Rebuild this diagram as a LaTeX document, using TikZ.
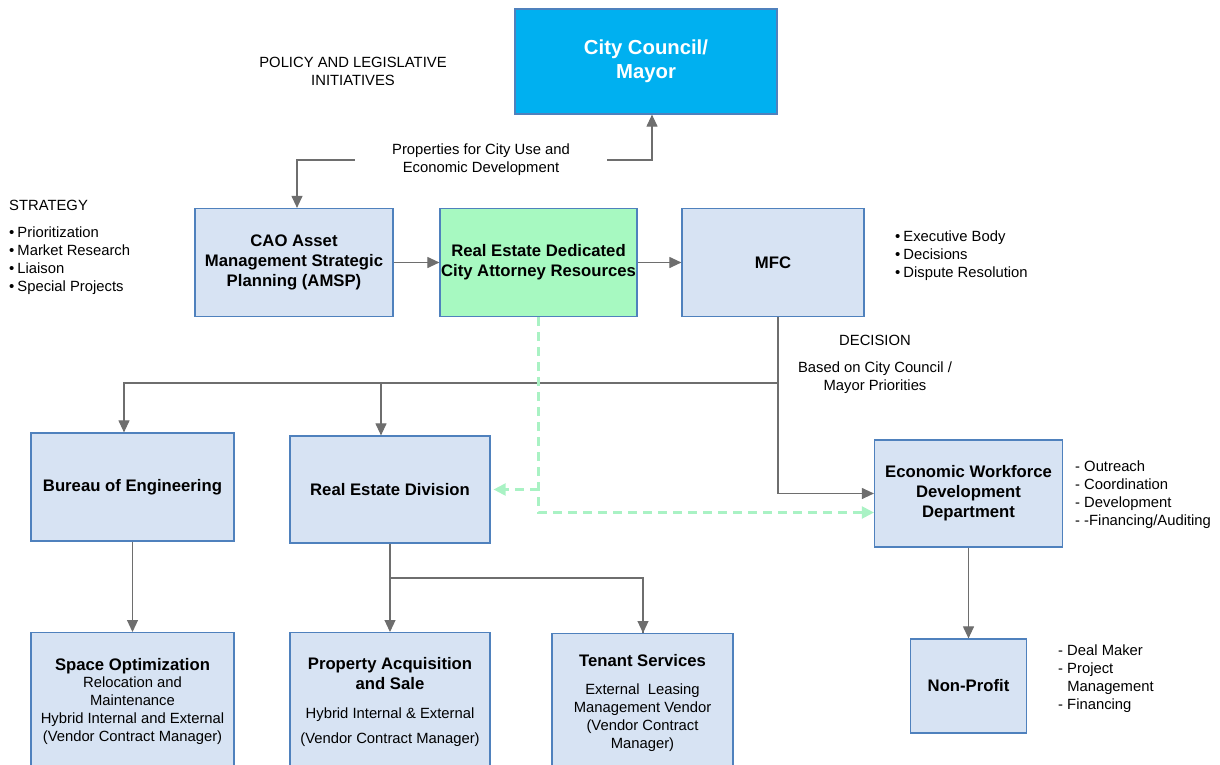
\documentclass[tikz,border=0pt]{standalone}
\usepackage{fontspec}
\setmainfont{Liberation Sans}
\usetikzlibrary{arrows.meta,calc}
\definecolor{boxfill}{HTML}{D7E3F3}
\definecolor{boxline}{HTML}{4F81BD}
\definecolor{councilfill}{HTML}{00B0F0}
\definecolor{greenfill}{HTML}{A7F9C1}
\definecolor{greenline}{HTML}{A9F2C4}
\definecolor{grayline}{HTML}{6E6E6E}
\newcommand{\hd}{\fontsize{16.7}{20}\selectfont\bfseries}
\newcommand{\bul}{{\fontsize{15}{18}\selectfont•}\hspace{3pt}}
\tikzset{
	box/.style={draw=boxline, line width=1.2pt, fill=boxfill, align=center, inner sep=0pt},
	boxtext/.style={font=\fontsize{16.7}{20}\selectfont\bfseries, align=center, inner sep=0pt},
	smalltext/.style={font=\fontsize{14.8}{18}\selectfont, align=center, inner sep=0pt},
	arrowline/.style={draw=grayline, line width=1.1pt, -{Triangle[length=12pt,width=11pt]}},
	plainline/.style={draw=grayline, line width=1.1pt},
	greendash/.style={draw=greenline, line width=2.2pt, dash pattern=on 9pt off 6pt, -{Triangle[length=12pt,width=12pt]}},
}
\begin{document}
\begin{tikzpicture}[x=1pt, y=-1pt]
		%%%%% START %%%%%
		\useasboundingbox (0,0) rectangle (1220,765);
		\clip (0,0) rectangle (1220,765);
		
		% top row
		\node[box, fill=councilfill, minimum width=262, minimum height=105, font=\fontsize{20.3}{24}\selectfont\bfseries, text=white] (council) at (646, 61.5) {City Council/\\Mayor};
		\node[smalltext] (policy) at (353, 71) {POLICY AND LEGISLATIVE\\INITIATIVES};
		\node[smalltext, inner xsep=37pt] (props) at (481, 160) {Properties for City Use and\\Economic Development};
		
		% second row
		\node[box, boxtext, minimum width=198, minimum height=108] (amsp) at (294, 262.5) {CAO Asset\\Management Strategic\\Planning (AMSP)};
		\node[box, boxtext, fill=greenfill, minimum width=197, minimum height=108] (redcar) at (538.5, 262.5) {Real Estate Dedicated\\City Attorney Resources};
		\node[box, boxtext, minimum width=182, minimum height=108] (mfc) at (773, 262.5) {MFC};
		
		\node[smalltext, anchor=west] (strategy) at (9, 205) {STRATEGY};
		\node[smalltext, anchor=north west, align=left] (stratlist) at (9, 227) {\bul Prioritization\\\bul Market Research\\\bul Liaison\\\bul Special Projects};
		\node[smalltext, anchor=north west, align=left] (mfclist) at (895, 231) {\bul Executive Body\\\bul Decisions\\\bul Dispute Resolution};
		\node[smalltext] (decision) at (875, 340) {DECISION};
		\node[smalltext] (based) at (875, 377.5) {Based on City Council /\\Mayor Priorities};
		
		% third row
		\node[box, boxtext, minimum width=203, minimum height=108] (boe) at (132.5, 487) {Bureau of Engineering};
		\node[box, boxtext, minimum width=200, minimum height=107] (red) at (390, 489.5) {Real Estate Division};
		\node[box, boxtext, minimum width=188, minimum height=107] (ewdd) at (968.5, 493.5) {Economic Workforce\\Development\\Department};
		\node[smalltext, anchor=north west, align=left] (ewddlist) at (1075, 461) {- Outreach\\- Coordination\\- Development\\- -Financing/Auditing};
		
		% bottom row
		\node[box, minimum width=203, minimum height=150, anchor=north] (spaceopt) at (132.5, 632) {};
		\node[smalltext, anchor=north] (spaceopttxt) at (132.5, 658) {{\hd Space Optimization}\\[-1pt]Relocation and\\Maintenance\\Hybrid Internal and External\\(Vendor Contract Manager)};
		\node[box, minimum width=200, minimum height=150, anchor=north] (propacq) at (390, 632) {};
		\node[smalltext, anchor=north] (propacqtxt) at (390, 657) {{\hd Property Acquisition}\\[2pt]{\hd and Sale}\\[11pt]Hybrid Internal \& External\\[7pt](Vendor Contract Manager)};
		\node[box, minimum width=181, minimum height=150, anchor=north] (tenant) at (642.5, 633) {};
		\node[smalltext, anchor=north] (tenanttxt) at (642.5, 654) {{\hd Tenant Services}\\[10pt]External~~Leasing\\Management Vendor\\(Vendor Contract\\Manager)};
		\node[box, boxtext, minimum width=116, minimum height=94] (nonprofit) at (968.5, 686) {Non-Profit};
		\node[smalltext, anchor=north west, align=left] (nplist) at (1058, 645) {- Deal Maker\\- Project\\\phantom{- }Management\\- Financing};
		
		% connectors
		\draw[arrowline] (props.west) -| ([xshift=3]amsp.north);
		\draw[arrowline] (props.east) -| ([xshift=6]council.south);
		\draw[arrowline] (amsp.east) -- (redcar.west);
		\draw[arrowline] (redcar.east) -- (mfc.west);
		
		\coordinate (split) at ([xshift=5]mfc.south |- 0,383);
		\draw[arrowline] ([xshift=5]mfc.south) |- (ewdd.west);
		\draw[arrowline] (split) -| ([xshift=-8.5]boe.north);
		\draw[arrowline] (split) -| ([xshift=-9]red.north);
		
		\draw[arrowline] (boe.south) -- (spaceopt.north);
		\coordinate (rsplit) at (red.south |- 0,578);
		\draw[arrowline] (red.south) -- (propacq.north);
		\draw[plainline] (rsplit) -| ([xshift=0.5]tenant.north);
		\draw[arrowline] ([xshift=0.5]tenant.north |- rsplit) -- ([xshift=0.5]tenant.north);
		\draw[arrowline] (ewdd.south) -- (nonprofit.north);
		
		\draw[greendash] (redcar.south) |- ([yshift=-19]ewdd.west);
		\draw[greendash, shorten >=3pt] (redcar.south |- red.east) -- (red.east);
		%%%%% END %%%%%
	\end{tikzpicture}
\end{document}
